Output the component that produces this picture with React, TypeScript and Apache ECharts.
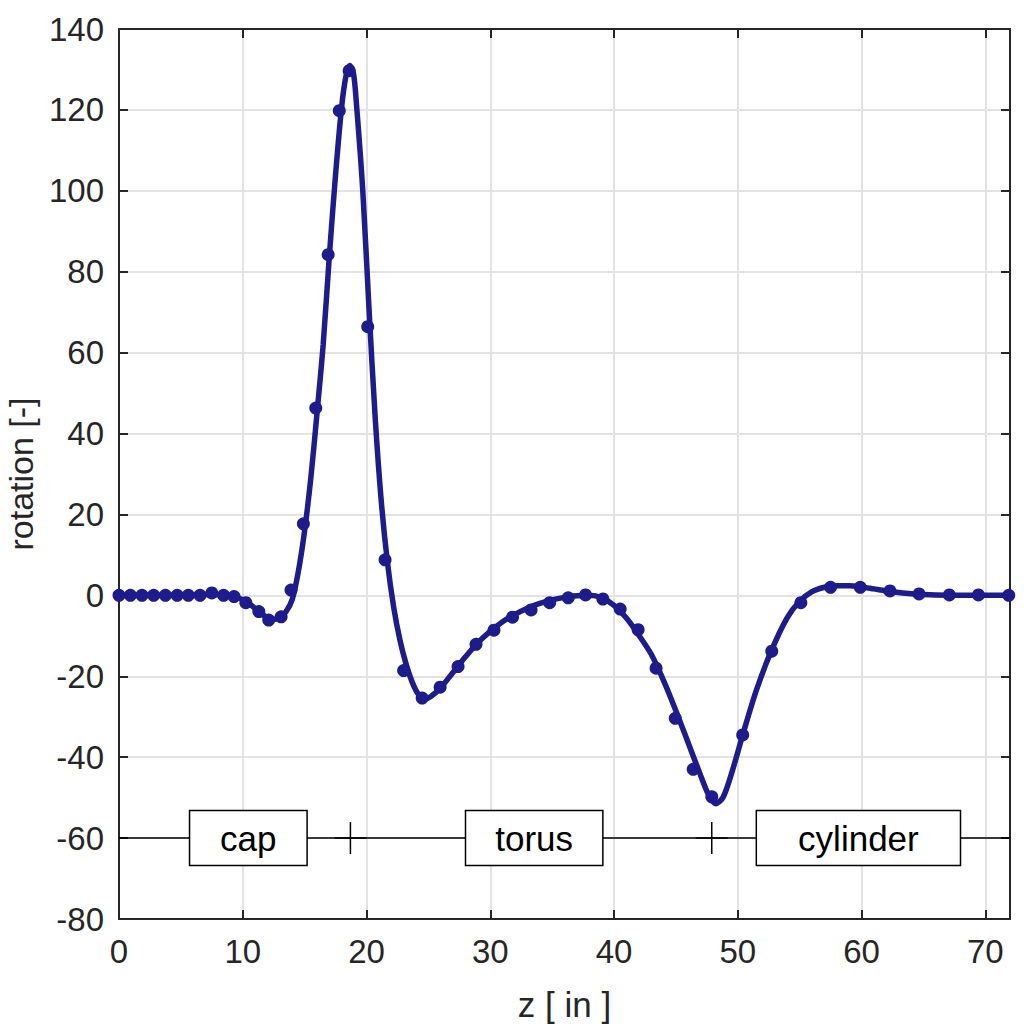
import React, { useEffect, useRef } from "react";
import * as echarts from "echarts";

// measured sample points (z in inches, rotation)
const capZ = [0, 0.92, 1.86, 2.8, 3.75, 4.7, 5.6, 6.55, 7.5, 8.45, 9.3, 10.25, 11.3, 12.1, 13.1, 13.9, 14.9, 15.9, 16.9, 17.8, 18.6];
const capV = [0, 0, 0, 0, 0, 0, 0, 0, 0.6, 0, -0.3, -1.8, -4.0, -6.1, -5.3, 1.3, 17.7, 46.3, 84.2, 119.8, 129.7];
const torusZ = [20.1, 21.5, 23.0, 24.5, 25.95, 27.4, 28.85, 30.3, 31.8, 33.3, 34.8, 36.3, 37.7, 39.1, 40.5, 41.95, 43.4, 44.95, 46.4, 47.9];
const torusV = [66.4, 8.8, -18.6, -25.4, -22.7, -17.6, -12.1, -8.6, -5.4, -3.6, -1.8, -0.6, 0.1, -0.9, -3.4, -8.5, -18.0, -30.4, -43.0, -49.8];
const cylZ = [50.4, 52.75, 55.1, 57.5, 59.9, 62.3, 64.65, 67.1, 69.45, 71.9];
const cylV = [-34.5, -13.8, -1.8, 2.0, 2.0, 1.1, 0.35, 0.1, 0.1, 0.0];

// fitted curve
const fitZ = [0, 4, 7, 8.5, 9.5, 10.5, 11.5, 12.3, 12.9, 13.5, 14, 14.5, 15, 15.5, 16, 16.5, 17, 17.5, 18, 18.35, 18.65, 18.95, 19.2, 19.7, 20.2, 20.7, 21.2, 21.7, 22.2, 22.7, 23.2, 23.7, 24.2, 24.7, 25.2, 26, 27, 28, 29, 30, 31, 32, 33, 34, 35, 36, 37, 38, 39, 40, 41, 42, 43, 44, 45, 46, 47, 47.6, 48.2, 48.8, 49.5, 50.4, 51.5, 52.7, 54, 55, 56, 57, 58, 59, 60, 61, 62, 63, 64, 66, 68, 72];
const fitV = [0, 0, 0.2, 0.1, -0.4, -2, -4.5, -5.9, -5.8, -4.0, -1.0, 6, 16, 29, 45, 62, 84, 104, 121, 128.5, 131, 129, 121, 100, 71, 44, 23, 8, -3, -11, -17, -21.5, -24.5, -25.6, -25.0, -22.8, -19, -15.2, -11.7, -8.9, -6.5, -4.7, -3.2, -2.0, -1.1, -0.5, -0.1, 0, -0.6, -2.5, -5.6, -9.8, -14.5, -21, -28.5, -36.5, -44.5, -49, -51.5, -50, -44, -34.5, -23.5, -13.8, -5.5, -1.5, 0.9, 2.0, 2.4, 2.4, 2.1, 1.6, 1.1, 0.7, 0.4, 0.1, 0, 0];

// geometry segments annotation
const segNames = ["cap", "torus", "cylinder"];
const segFrom = [5.7, 28.0, 51.5];
const segTo = [15.2, 39.1, 68.0];
const junctionZ = [18.7, 47.9];
const bandLevel = -60;
const zExtent = [0, 72];

const xTicks = [0, 10, 20, 30, 40, 50, 60, 70];
const yTicks = [-80, -60, -40, -20, 0, 20, 40, 60, 80, 100, 120, 140];

const FONT = "'Liberation Sans', Arial, Helvetica, sans-serif";
const BLUE = "#1c1c8c";
const AX = "#262626";

export default function App() {
  const ref = useRef<HTMLDivElement>(null);
  useEffect(() => {
    if (!ref.current) return;
    const chart = echarts.init(ref.current, null, { renderer: "svg" });
    const pts = [
      ...capZ.map((z, i) => [z, capV[i]]),
      ...torusZ.map((z, i) => [z, torusV[i]]),
      ...cylZ.map((z, i) => [z, cylV[i]]),
    ];
    const fit = fitZ.map((z, i) => [z, fitV[i]]);
    const boxData = segNames.map((n, i) => [segFrom[i], segTo[i], bandLevel]);
    const xBase = {
      type: "value",
      min: xTicks[0],
      max: zExtent[1],
      interval: 10,
    };
    const yBase = {
      type: "value",
      min: yTicks[0],
      max: yTicks[yTicks.length - 1],
      interval: 20,
    };
    const axisLine = { show: true, onZero: false, lineStyle: { color: AX, width: 2 } };
    const tick = { show: true, inside: true, length: 9, lineStyle: { color: AX, width: 2 } };
    chart.setOption({
      animation: false,
      backgroundColor: "#ffffff",
      grid: { left: 119, right: 14, top: 29, bottom: 116, containLabel: false, outerBoundsMode: "none" },
      xAxis: [
        {
          ...xBase,
          position: "bottom",
          name: "z [ in ]",
          nameLocation: "middle",
          nameGap: 68,
          nameTextStyle: { fontSize: 35, fontFamily: FONT, color: AX },
          axisLine,
          axisTick: tick,
          axisLabel: {
            fontSize: 33,
            fontFamily: FONT,
            color: AX,
            margin: 16,
            showMaxLabel: false,
            formatter: (v: number) => (xTicks.includes(v) ? String(v) : ""),
          },
          splitLine: { show: true, lineStyle: { color: "#e3e3e3", width: 2 } },
        },
        {
          ...xBase,
          position: "top",
          axisLine,
          axisTick: tick,
          axisLabel: { show: false },
          splitLine: { show: false },
        },
      ],
      yAxis: [
        {
          ...yBase,
          position: "left",
          name: "rotation [-]",
          nameLocation: "middle",
          nameGap: 72,
          nameTextStyle: { fontSize: 34, fontFamily: FONT, color: AX },
          axisLine,
          axisTick: tick,
          axisLabel: { fontSize: 33, fontFamily: FONT, color: AX, margin: 15 },
          splitLine: { show: true, lineStyle: { color: "#e3e3e3", width: 2 } },
        },
        {
          ...yBase,
          position: "right",
          axisLine,
          axisTick: tick,
          axisLabel: { show: false },
          splitLine: { show: false },
        },
      ],
      series: [
        {
          type: "line",
          data: [[zExtent[0], bandLevel], [zExtent[1], bandLevel]],
          symbol: "none",
          lineStyle: { color: "#000", width: 1.5 },
          z: 1,
          silent: true,
        },
        {
          type: "custom",
          data: boxData,
          z: 3,
          renderItem: (params: any, api: any) => {
            const from = api.value(0);
            const to = api.value(1);
            const lvl = api.value(2);
            const p0 = api.coord([from, lvl]);
            const p1 = api.coord([to, lvl]);
            const h = 55;
            return {
              type: "group",
              children: [
                {
                  type: "rect",
                  shape: { x: p0[0], y: p0[1] - h / 2, width: p1[0] - p0[0], height: h },
                  style: { fill: "#ffffff", stroke: "#000000", lineWidth: 1.5 },
                },
                {
                  type: "text",
                  x: (p0[0] + p1[0]) / 2,
                  y: p0[1],
                  style: {
                    text: segNames[params.dataIndex],
                    align: "center",
                    verticalAlign: "middle",
                    fontSize: 35,
                    fontFamily: FONT,
                    fill: "#000000",
                  },
                },
              ],
            };
          },
        },
        {
          type: "custom",
          data: junctionZ.map((z) => [z, bandLevel]),
          z: 3,
          renderItem: (params: any, api: any) => {
            const p = api.coord([api.value(0), api.value(1)]);
            const s = 16;
            return {
              type: "group",
              children: [
                { type: "line", shape: { x1: p[0] - s, y1: p[1], x2: p[0] + s, y2: p[1] }, style: { stroke: "#000", lineWidth: 1.5 } },
                { type: "line", shape: { x1: p[0], y1: p[1] - s, x2: p[0], y2: p[1] + s }, style: { stroke: "#000", lineWidth: 1.5 } },
              ],
            };
          },
        },
        {
          type: "line",
          data: fit,
          smooth: 0.3,
          symbol: "none",
          lineStyle: { color: BLUE, width: 5.5 },
          z: 4,
        },
        {
          type: "scatter",
          data: pts,
          symbol: "circle",
          symbolSize: 13,
          itemStyle: { color: BLUE, opacity: 1 },
          z: 5,
        },
      ],
    });
    return () => chart.dispose();
  }, []);
  return (
    <div
      ref={ref}
      style={{ position: "fixed", left: 0, top: 0, width: 1024, height: 1035, background: "#fff" }}
    />
  );
}
